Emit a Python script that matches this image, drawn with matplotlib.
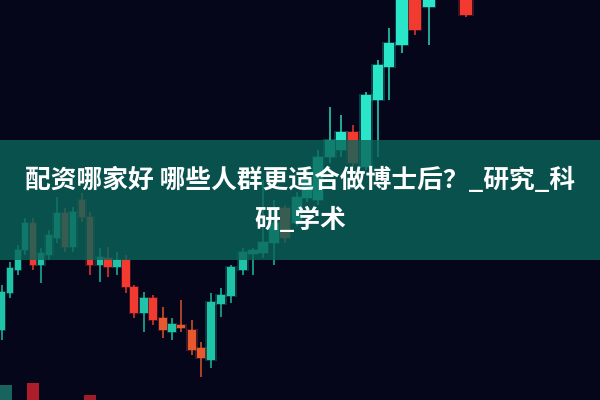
import matplotlib.pyplot as plt
import numpy as np

plt.rcParams['font.family'] = ['Noto Sans CJK SC', 'DejaVu Sans']

# candle data (price axis = 400 - pixel row)
xs     = [2, 10, 18, 25, 33, 41, 49, 57, 65, 73, 82, 90, 100, 108, 117, 126, 134, 144, 153, 163,
          172, 181, 192, 201, 211, 221, 231, 243, 253, 263, 274, 285, 297, 307, 318, 330, 341, 353,
          366, 378, 389, 402, 415, 429, 466]
opens  = [70, 107, 130, 150, 177, 135, 145, 162, 187, 153, 200, 183, 135, 142, 133, 140, 113, 87, 102, 82,
          68, 75, 70, 52, 40, 96, 104, 130, 146, 147, 157, 192, 177, 202, 200, 243, 250, 268,
          233, 300, 333, 355, 405, 393, 405]
closes = [108, 132, 150, 177, 135, 147, 165, 187, 153, 188, 183, 135, 143, 133, 140, 113, 87, 102, 80, 70,
          76, 72, 50, 42, 98, 105, 133, 148, 150, 158, 177, 162, 203, 220, 243, 260, 268, 237,
          305, 335, 357, 405, 370, 405, 385]
highs  = [115, 138, 155, 182, 182, 152, 170, 203, 192, 193, 207, 188, 152, 153, 148, 145, 115, 108, 105, 93,
          82, 100, 80, 58, 107, 112, 135, 152, 152, 220, 200, 195, 208, 230, 250, 293, 285, 275,
          308, 340, 372, 405, 410, 410, 410]
lows   = [60, 102, 125, 145, 130, 117, 140, 157, 148, 148, 178, 125, 118, 123, 125, 107, 82, 68, 75, 62,
          60, 68, 45, 23, 32, 83, 97, 125, 125, 142, 135, 157, 174, 198, 195, 237, 243, 232,
          230, 243, 300, 347, 365, 355, 383]

# out-of-focus candles at the bottom edge
fg_xs    = [6, 33, 90]
fg_opens = [0, 17, 5]
fg_close = [15, 0, 0]

title_lines = ['配资哪家好 哪些人群更适合做博士后？_研究_科', '研_学术']

fig = plt.figure(figsize=(6, 4), dpi=100)
ax = fig.add_axes([0, 0, 1, 1])
bg = '#05061a'
fig.patch.set_facecolor(bg)
ax.set_facecolor(bg)

for x, o, c, h, l in zip(xs, opens, closes, highs, lows):
    up = c >= o
    if up:
        col = '#2ae6c8' if x > 300 else '#1fc4a8'
    elif 160 < x < 205:
        col = '#e8582e'
    else:
        col = '#f23a30'
    w = 5.5 + x * 0.014
    ax.vlines(x, l, h, color=col, lw=1.3, alpha=0.8, zorder=2)
    ax.bar(x, abs(c - o), bottom=min(o, c), width=w, color=col, zorder=3)
    # a soft glow, the photo is a bit blurred
    ax.bar(x, abs(c - o) + 2, bottom=min(o, c) - 1, width=w + 3, color=col, alpha=0.25, zorder=2)

for x, o, c, col in zip(fg_xs, fg_opens, fg_close, ['#1a6e66', '#c0202c', '#b0202a']):
    ax.bar(x, abs(c - o), bottom=min(o, c), width=12, color=col, alpha=0.9, zorder=3)

# teal banner over the chart
ax.axhspan(140, 260, color='#0b655a', alpha=0.8, lw=0, zorder=5)

ax.text(300, 219, title_lines[0], ha='center', va='center', color='white',
        fontsize=18.5, fontweight='bold', zorder=6)
ax.text(300, 180, title_lines[1], ha='center', va='center', color='white',
        fontsize=18.5, fontweight='bold', zorder=6)

ax.set_xlim(0, 600)
ax.set_ylim(0, 400)
ax.axis('off')

fig.savefig('out.png', dpi=100, facecolor=bg)
